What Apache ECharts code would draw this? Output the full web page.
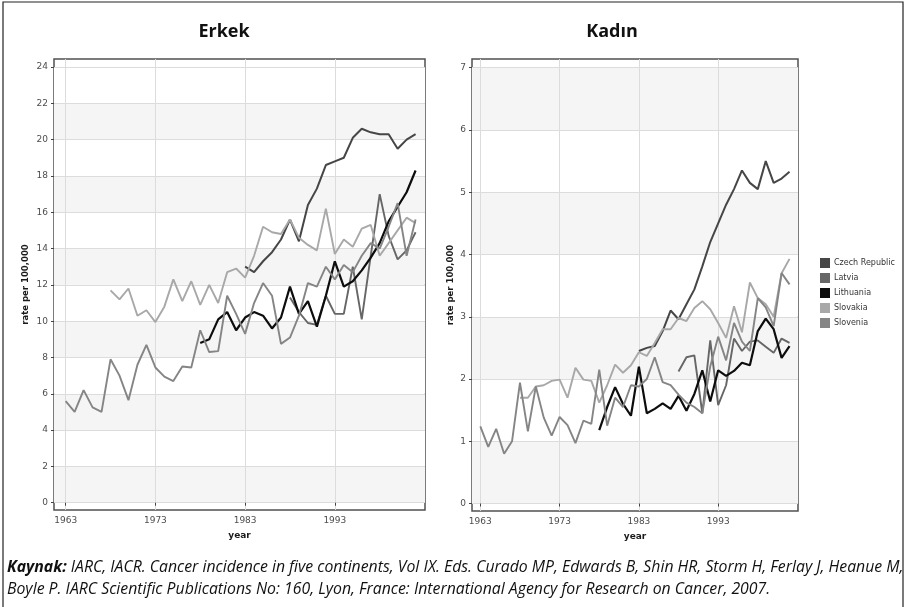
<!DOCTYPE html>
<html>
<head>
<meta charset="utf-8">
<script src="https://cdn.jsdelivr.net/npm/echarts@6/dist/echarts.min.js"></script>
<style>
html,body{margin:0;padding:0;background:#fff;}
#c{width:906px;height:607px;}
</style>
</head>
<body>
<div id="c"></div>
<script>
// ---------- data ----------
const years = [1963,1964,1965,1966,1967,1968,1969,1970,1971,1972,
               1973,1974,1975,1976,1977,1978,1979,1980,1981,1982,
               1983,1984,1985,1986,1987,1988,1989,1990,1991,1992,
               1993,1994,1995,1996,1997,1998,1999,2000,2001,2002];
const yearTicks = [1963,1973,1983,1993];
const maleTicks = [0,2,4,6,8,10,12,14,16,18,20,22,24];
const femaleTicks = [0,1,2,3,4,5,6,7];
const countries = ['Czech Republic','Latvia','Lithuania','Slovakia','Slovenia'];
const startYears = [1983,1988,1978,1968,1963];

// Erkek (male)
const maleCzech = [13.0,12.7,13.3,13.8,14.5,15.6,14.4,16.4,17.3,18.6,18.8,19.0,20.1,20.6,20.4,20.3,20.3,19.5,20.0,20.3];
const maleLatvia = [11.3,10.5,9.9,9.8,11.4,10.4,10.4,13.0,10.1,13.6,17.0,14.7,13.4,13.9,14.9];
const maleLithuania = [8.8,9.0,10.1,10.5,9.5,10.2,10.5,10.3,9.6,10.2,11.9,10.4,11.1,9.7,11.4,13.3,11.9,12.2,12.8,13.5,14.3,15.5,16.3,17.1,18.3];
const maleSlovakia = [11.7,11.2,11.8,10.3,10.6,9.95,10.8,12.3,11.1,12.2,10.9,12.0,11.0,12.7,12.9,12.4,13.6,15.2,14.9,14.8,15.6,14.6,14.2,13.9,16.2,13.7,14.5,14.1,15.1,15.3,13.6,14.3,15.0,15.7,15.4];
const maleSlovenia = [5.6,5.0,6.2,5.25,5.0,7.9,7.0,5.65,7.6,8.7,7.45,6.95,6.7,7.5,7.45,9.5,8.3,8.35,11.4,10.4,9.3,11.0,12.1,11.4,8.75,9.1,10.3,12.1,11.9,13.0,12.3,13.1,12.7,13.6,14.3,14.0,15.2,16.5,13.6,15.6];

// Kadın (female)
const femaleCzech = [2.45,2.5,2.53,2.77,3.1,2.96,3.2,3.44,3.81,4.2,4.5,4.8,5.05,5.35,5.15,5.05,5.5,5.15,5.22,5.33];
const femaleLatvia = [2.12,2.35,2.38,1.45,2.62,1.58,1.9,2.65,2.45,2.6,2.62,2.52,2.42,2.65,2.58];
const femaleLithuania = [1.18,1.55,1.87,1.6,1.41,2.2,1.45,1.52,1.61,1.52,1.73,1.49,1.76,2.14,1.64,2.14,2.05,2.13,2.26,2.22,2.77,2.97,2.8,2.34,2.53];
const femaleSlovakia = [1.70,1.70,1.88,1.90,1.97,1.99,1.70,2.18,1.99,1.97,1.62,1.90,2.23,2.10,2.22,2.43,2.37,2.58,2.80,2.80,2.98,2.93,3.14,3.25,3.12,2.90,2.66,3.17,2.75,3.55,3.30,3.20,3.00,3.70,3.93];
const femaleSlovenia = [1.24,0.91,1.20,0.80,1.00,1.94,1.16,1.88,1.38,1.09,1.39,1.26,0.97,1.33,1.28,2.15,1.25,1.70,1.55,1.90,1.88,2.00,2.35,1.95,1.90,1.75,1.62,1.55,1.45,2.20,2.68,2.30,2.90,2.60,2.45,3.30,3.15,2.85,3.70,3.52];

const maleData = [maleCzech, maleLatvia, maleLithuania, maleSlovakia, maleSlovenia];
const femaleData = [femaleCzech, femaleLatvia, femaleLithuania, femaleSlovakia, femaleSlovenia];

// ---------- styling ----------
const colors = ['#464646','#666666','#0d0d0d','#a8a8a8','#858585'];
const widths = [2,1.9,2.2,1.9,1.9];

function pairs(start, vals){
  const i0 = years.indexOf(start);
  return vals.map((v,i)=>[years[i0+i], v]);
}

const axisLabelStyle = {fontFamily:'DejaVu Sans', fontSize:9, color:'#4d4d4d'};
const nameStyle = {fontFamily:'DejaVu Sans', fontSize:8.5, fontWeight:'bold', color:'#1a1a1a'};

function xAxisFor(gi, min, max){
  return {
    gridIndex: gi, type:'value', min:min, max:max,
    axisLine:{show:false},
    axisTick:{show:true, length:3, customValues: yearTicks, lineStyle:{color:'#444', width:1}},
    axisLabel:Object.assign({customValues: yearTicks, margin:6, formatter: v => String(v)}, axisLabelStyle),
    splitLine:{show:true, lineStyle:{color:'#dcdcdc', width:1}},
    name:'year', nameLocation:'middle', nameGap:21,
    nameTextStyle: Object.assign({}, nameStyle, {fontSize:9})
  };
}
function yAxisFor(gi, min, max, ticks, gap){
  return {
    gridIndex: gi, type:'value', min:min, max:max,
    axisLine:{show:false},
    axisTick:{show:true, length:3, customValues: ticks, lineStyle:{color:'#444', width:1}},
    axisLabel:Object.assign({customValues: ticks, margin:6, formatter: v => String(v)}, axisLabelStyle),
    splitLine:{show:true, lineStyle:{color:'#dcdcdc', width:1}},
    splitArea:{show:true, areaStyle:{color:['#f5f5f5','#ffffff']}},
    name:'rate per 100,000', nameLocation:'middle', nameGap:gap, nameRotate:90,
    nameTextStyle: nameStyle
  };
}

const series = [];
countries.forEach((name, k)=>{
  series.push({
    name:name, type:'line', xAxisIndex:0, yAxisIndex:0,
    data: pairs(startYears[k], maleData[k]),
    showSymbol:false, symbol:'none', color: colors[k],
    lineStyle:{color:colors[k], width:widths[k]}, z: 3 + k, animation:false
  });
});
countries.forEach((name, k)=>{
  series.push({
    name:name, type:'line', xAxisIndex:1, yAxisIndex:1,
    data: pairs(startYears[k], femaleData[k]),
    showSymbol:false, symbol:'none', color: colors[k],
    lineStyle:{color:colors[k], width:widths[k]}, z: 3 + k, animation:false
  });
});

const captionFont = {fontFamily:'Open Sans', fontSize:15.8, fontStyle:'italic', fill:'#111'};

const option = {
  animation:false,
  backgroundColor:'#ffffff',
  grid:[
    {left:54, top:59, width:371, height:451, show:true, borderColor:'#505050', borderWidth:1.5, backgroundColor:'transparent'},
    {left:472, top:59, width:326, height:452, show:true, borderColor:'#505050', borderWidth:1.5, backgroundColor:'transparent'}
  ],
  xAxis:[ xAxisFor(0, 1961.7, 2003.05), xAxisFor(1, 1961.95, 2003.07) ],
  yAxis:[ yAxisFor(0, -0.4, 24.44, maleTicks, 24), yAxisFor(1, -0.12, 7.14, femaleTicks, 17) ],
  legend:{
    data: countries, orient:'vertical', left:820, top:258,
    icon:'rect', itemWidth:10, itemHeight:10, itemGap:5, padding:0,
    textStyle:{fontFamily:'DejaVu Sans', fontSize:8, color:'#333', padding:[0,0,0,-1]}
  },
  graphic:[
    {type:'rect', shape:{x:3, y:2, width:900, height:700}, style:{fill:null, stroke:'#222', lineWidth:1.2}, silent:true},
    {type:'text', x:224, y:32, style:{text:'Erkek', fontFamily:'Open Sans', fontSize:18, fontWeight:'bold', fill:'#111', align:'center', verticalAlign:'middle'}},
    {type:'text', x:612, y:32, style:{text:'Kadın', fontFamily:'Open Sans', fontSize:18, fontWeight:'bold', fill:'#111', align:'center', verticalAlign:'middle'}},
    {type:'text', x:7, y:567, style:Object.assign({
      text:'{b|Kaynak:} IARC, IACR. Cancer incidence in five continents, Vol IX. Eds. Curado MP, Edwards B, Shin HR, Storm H, Ferlay J, Heanue M,',
      rich:{b:{fontFamily:'Open Sans', fontSize:15.8, fontStyle:'italic', fontWeight:'bold', fill:'#111'}},
      verticalAlign:'middle'}, captionFont)},
    {type:'text', x:7, y:589, style:Object.assign({
      text:'Boyle P. IARC Scientific Publications No: 160, Lyon, France: International Agency for Research on Cancer, 2007.',
      verticalAlign:'middle'}, captionFont)}
  ],
  series: series
};

const chart = echarts.init(document.getElementById('c'), null, {renderer:'canvas'});
chart.setOption(option);
</script>
</body>
</html>
